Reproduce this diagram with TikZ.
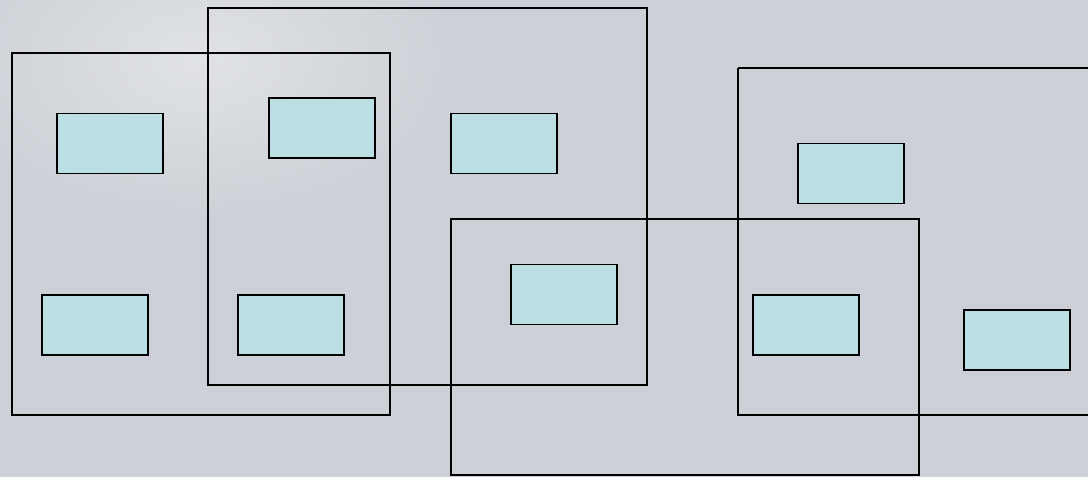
\documentclass[tikz,border=0pt]{standalone}
\usetikzlibrary{positioning}
\definecolor{bgc}{RGB}{205,208,214}
\definecolor{bglight}{RGB}{224,226,230}
\definecolor{boxfill}{RGB}{186,224,227}
\begin{document}
\begin{tikzpicture}[x=0.02cm,y=-0.02cm,
  frame/.style={draw=black,line width=1.1pt},
  smallbox/.style={draw=black,fill=boxfill,line width=1.1pt,inner sep=0pt,minimum width=2.12cm,minimum height=1.2cm}]
\useasboundingbox (0,0) rectangle (1088,477);
\clip (0,0) rectangle (1088,477);
\fill[bgc] (0,0) rectangle (1088,477);
\shade[inner color=bglight,outer color=bgc] (200,60) ellipse [x radius=260, y radius=160];
% large frames
\draw[frame] (12,53) rectangle (390,415);
\draw[frame] (208,8) rectangle (647,385);
\draw[frame] (451,219) rectangle (919,475);
\draw[frame] (738,68) -- (1095,68) (738,68) -- (738,415) -- (1095,415);
% small boxes
\node[smallbox] (b1) at (110,143.5) {};
\node[smallbox] (b2) at (322,128) {};
\node[smallbox] (b3) at (504,143.5) {};
\node[smallbox] (b4) at (851,173.5) {};
\node[smallbox] (b5) at (564,294.5) {};
\node[smallbox] (b6) at (95,325) {};
\node[smallbox] (b7) at (291,325) {};
\node[smallbox] (b8) at (806,325) {};
\node[smallbox] (b9) at (1017,340) {};
\end{tikzpicture}
\end{document}
